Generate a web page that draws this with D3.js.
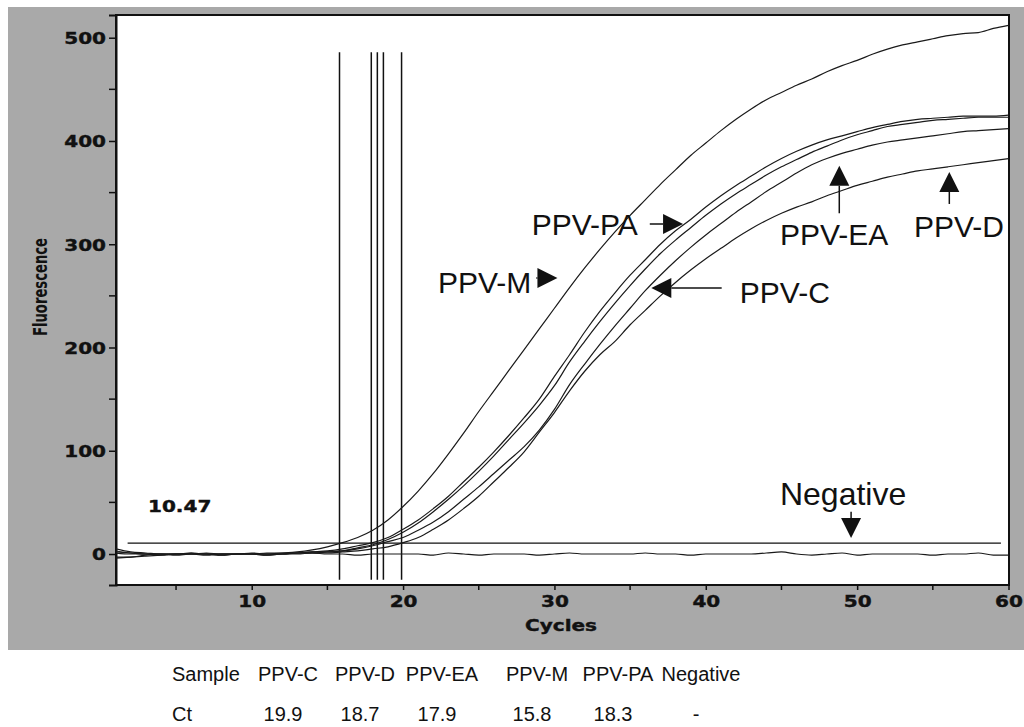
<!DOCTYPE html>
<html>
<head>
<meta charset="utf-8">
<script src="https://cdn.jsdelivr.net/npm/d3@7"></script>
<style>
  body { margin: 0; background: #fff; }
  svg { display: block; }
</style>
</head>
<body>
<svg id="chart"></svg>
<script>
// cycle numbers
const cycles = [1, 2, 3, 4, 5, 6, 7, 8, 9, 10, 11, 12, 13, 14, 15, 16, 17, 18, 19, 20,
  21, 22, 23, 24, 25, 26, 27, 28, 29, 30, 31, 32, 33, 34, 35, 36, 37, 38, 39, 40,
  41, 42, 43, 44, 45, 46, 47, 48, 49, 50, 51, 52, 53, 54, 55, 56, 57, 58, 59, 60];

// fluorescence, one value per cycle
const ppvM = [5, 2, 1, 0, 0, 1, 0, 0, 0, 0, 1, 1, 2, 4, 7, 11, 16, 23, 33, 46,
  61, 78, 97, 117, 138, 158, 178, 198, 218, 238, 258, 277, 295, 312, 328, 343, 358, 372, 386, 398,
  410, 421, 431, 440, 447, 454, 460, 467, 473, 478, 484, 489, 493, 496, 499, 502, 504, 505, 509, 512];
const ppvEA = [3, 1, 0, 0, 0, 1, 0, 0, 0, 1, 0, 0, 1, 2, 3, 5, 8, 11, 16, 24,
  33, 44, 56, 70, 84, 99, 115, 132, 150, 172, 193, 215, 235, 253, 270, 285, 300, 313, 324, 336,
  347, 357, 366, 375, 383, 390, 396, 401, 405, 409, 413, 416, 419, 421, 422, 423, 424, 424, 424, 425];
const ppvPA = [-3, -3, -1, 0, 0, 0, 0, -1, 0, 0, 0, 1, 1, 2, 2, 3, 6, 9, 14, 21,
  30, 41, 53, 66, 80, 95, 111, 127, 144, 163, 186, 206, 225, 243, 260, 276, 291, 304, 316, 328,
  339, 349, 358, 367, 375, 382, 389, 395, 401, 406, 410, 414, 416, 418, 420, 421, 422, 423, 423, 423];
const ppvD = [-4, -3, -2, -1, 0, 0, -1, 0, 0, 0, -1, 0, 1, 1, 2, 3, 5, 8, 12, 16,
  23, 31, 41, 53, 65, 78, 91, 104, 120, 140, 164, 184, 203, 221, 238, 255, 270, 284, 297, 309,
  320, 331, 341, 351, 360, 369, 377, 383, 388, 392, 396, 399, 401, 403, 405, 407, 409, 410, 411, 412];
const ppvC = [2, 1, 0, 0, -1, 0, 0, -1, 0, 0, 0, 0, 1, 1, 1, 2, 3, 5, 7, 11,
  16, 24, 33, 44, 56, 70, 84, 99, 118, 137, 158, 177, 193, 206, 222, 236, 250, 263, 275, 286,
  296, 306, 315, 323, 330, 336, 341, 347, 352, 357, 361, 365, 368, 371, 373, 375, 377, 379, 381, 383];
const negative = [1, 0, 0, -1, 0, 0, 1, 0, 0, 0, -1, 0, 0, 1, 0, 0, -1, 0, 0, 0,
  0, -1, 1, 0, -1, 0, 0, 0, -1, 0, 1, 0, 0, 0, 0, 1, 0, 0, -1, 0,
  0, 0, 0, 1, 2, 0, -1, 0, 1, -1, 0, 0, 0, 0, -1, 0, 0, 1, -1, -1];

// samples and threshold cycles (Ct)
const samples = ["PPV-C", "PPV-D", "PPV-EA", "PPV-M", "PPV-PA", "Negative"];
const ctLabels = ["19.9", "18.7", "17.9", "15.8", "18.3", "-"];
const ctValues = [19.9, 18.7, 17.9, 15.8, 18.3];
const threshold = 10.47;

// axis ticks
const xTicks = [10, 20, 30, 40, 50, 60];
const xMinor = [5, 15, 25, 35, 45, 55];
const yTicks = [0, 100, 200, 300, 400, 500];
const yMinor = [50, 150, 250, 350, 450];

const width = 1024, height = 727;
const plot = { left: 116, top: 15, right: 1009, bottom: 585 };

const svg = d3.select("#chart").attr("width", width).attr("height", height);

// grey panel
svg.append("rect").attr("x", 8).attr("y", 7).attr("width", 1016).attr("height", 643).attr("fill", "#a9a9a9");
svg.append("rect")
  .attr("x", plot.left).attr("y", plot.top)
  .attr("width", plot.right - plot.left).attr("height", plot.bottom - plot.top)
  .attr("fill", "#fff").attr("stroke", "#111").attr("stroke-width", 2);

const x = d3.scaleLinear().domain([1, 60]).range([plot.left - 0.5, plot.right - 0.5]);
const y = d3.scaleLinear().domain([-30, 522]).range([plot.bottom, plot.top]);

svg.append("clipPath").attr("id", "clip")
  .append("rect").attr("x", plot.left).attr("y", plot.top)
  .attr("width", plot.right - plot.left).attr("height", plot.bottom - plot.top);

const tickFont = "'DejaVu Sans', Verdana, sans-serif";
const stretch = 1.25;

// y axis
const yAxis = svg.append("g").attr("transform", `translate(${plot.left},0)`)
  .call(d3.axisLeft(y).tickValues(yTicks).tickSize(7).tickPadding(2).tickFormat(d3.format("d")));
yAxis.select(".domain").attr("stroke", "#111").attr("stroke-width", 2);
yAxis.selectAll(".tick line").attr("stroke", "#111").attr("stroke-width", 1.5);
yAxis.selectAll(".tick text")
  .attr("font-family", tickFont).attr("font-weight", "bold").attr("font-size", 16).attr("fill", "#111")
  .attr("stroke", "#111").attr("stroke-width", 0.4)
  .attr("x", -10 / stretch).attr("dy", "0.36em").attr("transform", `scale(${stretch},1)`);
svg.append("g").selectAll("line").data(yMinor).join("line")
  .attr("x1", plot.left - 7).attr("x2", plot.left)
  .attr("y1", d => y(d)).attr("y2", d => y(d))
  .attr("stroke", "#111").attr("stroke-width", 1.5);

// x axis
const xAxis = svg.append("g").attr("transform", `translate(0,${plot.bottom})`)
  .call(d3.axisBottom(x).tickValues(xTicks).tickSize(5).tickPadding(6).tickFormat(d3.format("d")));
xAxis.select(".domain").remove();
xAxis.selectAll(".tick line").attr("stroke", "#111").attr("stroke-width", 1.5);
xAxis.selectAll(".tick text")
  .attr("font-family", tickFont).attr("font-weight", "bold").attr("font-size", 16).attr("fill", "#111")
  .attr("stroke", "#111").attr("stroke-width", 0.4)
  .attr("transform", `scale(${stretch},1)`)
  .each(function () { d3.select(this).attr("x", 0); });
svg.append("g").selectAll("line").data(xMinor).join("line")
  .attr("x1", d => x(d)).attr("x2", d => x(d))
  .attr("y1", plot.bottom).attr("y2", plot.bottom + 5)
  .attr("stroke", "#111").attr("stroke-width", 1.5);

// axis titles
svg.append("text")
  .attr("transform", `translate(561,631) scale(${stretch},1)`)
  .attr("text-anchor", "middle")
  .attr("font-family", tickFont).attr("font-weight", "bold").attr("font-size", 16).attr("fill", "#111")
  .attr("stroke", "#111").attr("stroke-width", 0.4)
  .text("Cycles");
svg.append("text")
  .attr("transform", "translate(47,287) rotate(-90)")
  .attr("text-anchor", "middle")
  .attr("font-family", "'DejaVu Sans Condensed', 'DejaVu Sans', sans-serif")
  .attr("font-weight", "bold").attr("font-size", 19).attr("fill", "#111")
  .attr("textLength", 98).attr("lengthAdjust", "spacingAndGlyphs")
  .text("Fluorescence");

const body = svg.append("g").attr("clip-path", "url(#clip)");

// Ct lines
body.selectAll(".ct").data(ctValues).join("line")
  .attr("class", "ct")
  .attr("x1", d => x(d)).attr("x2", d => x(d))
  .attr("y1", y(486)).attr("y2", y(-25))
  .attr("stroke", "#111").attr("stroke-width", 1.5);

// threshold
body.append("line")
  .attr("x1", x(1.8)).attr("x2", x(59.5))
  .attr("y1", y(threshold)).attr("y2", y(threshold))
  .attr("stroke", "#111").attr("stroke-width", 1.3);
svg.append("text")
  .attr("transform", `translate(${x(3.15)},${y(41)}) scale(${stretch},1)`)
  .attr("font-family", tickFont).attr("font-weight", "bold").attr("font-size", 16).attr("fill", "#111")
  .attr("stroke", "#111").attr("stroke-width", 0.4)
  .text(threshold);

// amplification curves
const line = d3.line()
  .x((d, i) => x(cycles[i]))
  .y(d => y(d))
  .curve(d3.curveMonotoneX);
const series = [ppvM, ppvEA, ppvPA, ppvD, ppvC, negative];
body.selectAll(".curve").data(series).join("path")
  .attr("class", "curve")
  .attr("d", line)
  .attr("fill", "none")
  .attr("stroke", "#1a1a1a")
  .attr("stroke-width", 1.2);

// annotations: label position, arrow tail and tip in data units
const notes = [
  { text: "PPV-PA", tx: 28.5, ty: 309, size: 30, from: [36.3, 319.6], to: [38.5, 319.6] },
  { text: "PPV-M", tx: 22.3, ty: 253, size: 30, from: [28.8, 267.3], to: [30.2, 267.3] },
  { text: "PPV-C", tx: 42.25, ty: 243.4, size: 30, from: [41.05, 257.6], to: [36.4, 257.6] },
  { text: "PPV-EA", tx: 44.9, ty: 299.2, size: 30, from: [48.82, 330], to: [48.82, 376] },
  { text: "PPV-D", tx: 53.75, ty: 307, size: 30, from: [56.09, 339], to: [56.09, 370] },
  { text: "Negative", tx: 44.9, ty: 47.5, size: 32, from: [49.6, 41], to: [49.6, 15.5] }
];
const ann = svg.append("g");
ann.selectAll("text").data(notes).join("text")
  .attr("x", d => x(d.tx)).attr("y", d => y(d.ty))
  .attr("font-family", "'Liberation Sans', Arial, sans-serif")
  .attr("font-size", d => d.size).attr("fill", "#111")
  .text(d => d.text);

notes.forEach(d => {
  const x1 = x(d.from[0]), y1 = y(d.from[1]), x2 = x(d.to[0]), y2 = y(d.to[1]);
  const len = Math.hypot(x2 - x1, y2 - y1);
  const ux = (x2 - x1) / len, uy = (y2 - y1) / len;
  const head = 20, half = 10;
  const bx = x2 - ux * head, by = y2 - uy * head;
  if (len > head) {
    ann.append("line").attr("x1", x1).attr("y1", y1).attr("x2", bx).attr("y2", by)
      .attr("stroke", "#111").attr("stroke-width", 1.5);
  }
  ann.append("path")
    .attr("d", `M${x2},${y2}L${bx - uy * half},${by + ux * half}L${bx + uy * half},${by - ux * half}Z`)
    .attr("fill", "#111");
});

// Ct table under the chart
const colX = [288, 365, 442, 537, 618, 701];
const tableFont = "'Liberation Sans', Arial, sans-serif";
const table = svg.append("g").attr("font-family", tableFont).attr("font-size", 20).attr("fill", "#111");
table.append("text").attr("x", 172).attr("y", 681).text("Sample");
table.append("text").attr("x", 172).attr("y", 721).text("Ct");
table.selectAll(".s").data(samples).join("text")
  .attr("class", "s")
  .attr("x", (d, i) => colX[i]).attr("y", 681).attr("text-anchor", "middle")
  .text(d => d);
table.selectAll(".c").data(ctLabels).join("text")
  .attr("class", "c")
  .attr("x", (d, i) => colX[i] - 5).attr("y", 721).attr("text-anchor", "middle")
  .text(d => d);
</script>
</body>
</html>
